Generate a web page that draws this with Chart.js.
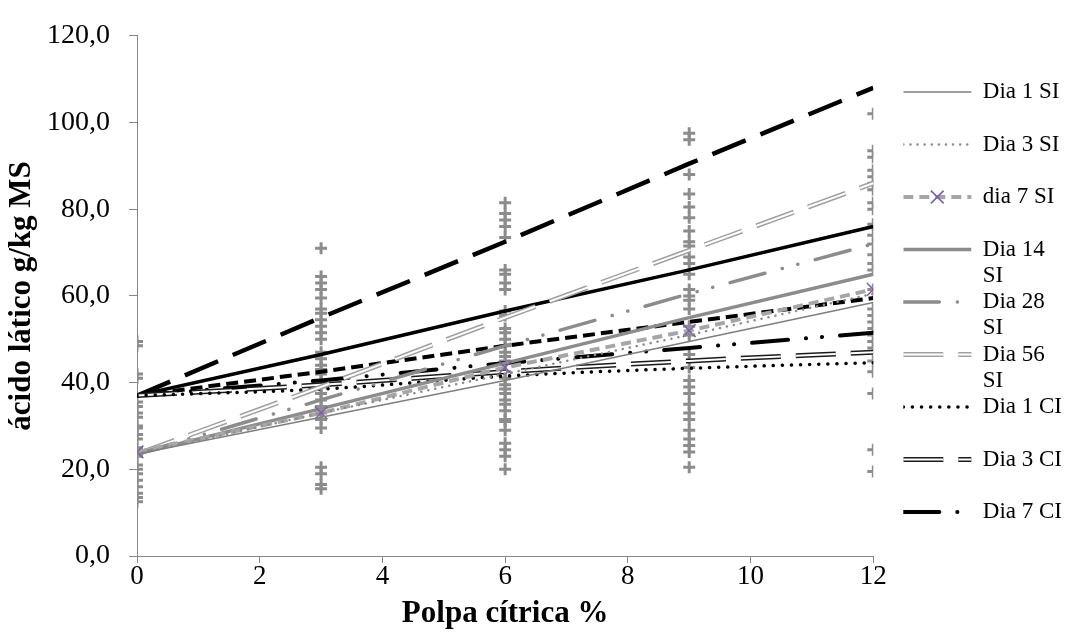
<!DOCTYPE html>
<html>
<head>
<meta charset="utf-8">
<script src="https://cdn.jsdelivr.net/npm/chart.js@4/dist/chart.umd.min.js"></script>
<style>
  html, body { margin: 0; padding: 0; background: #fff; }
  #wrap { width: 1082px; height: 640px; }
</style>
</head>
<body>
<div id="wrap"><canvas id="chart"></canvas></div>
<script>
// x levels (% polpa cítrica) where the lines/points were read
const xLevels = [0, 3, 6, 9, 12];

// fitted lines, silage without inoculant (SI)
const dia1SI  = [23.5, 32, 40.5, 49.5, 58.5];
const dia3SI  = [23.5, 33, 42, 51, 60.5];
const dia7SI  = [24, 33, 43.5, 52, 61.5];
const dia14SI = [23.5, 34, 44.5, 55, 65];
const dia28SI = [23.5, 36, 48.5, 60.5, 72];
const dia56SI = [23.5, 39, 55, 70.5, 86];

// fitted lines, with inoculant (CI)
const dia1CI  = [37, 38.5, 41.5, 43.3, 44.6];
const dia3CI  = [37, 39.5, 42.5, 45, 47];
const dia7CI  = [37, 40.5, 44.5, 48, 51.5];
const dia14CI = [37, 46.5, 56.5, 66, 76];
const dia28CI = [37, 42.5, 48.5, 54, 59.5];
const dia56CI = [37, 55, 72.5, 90.5, 108];

// observed values (+), one array per x level
const obs0  = [49.5, 48.5, 42, 41, 35.5, 34.5, 33, 32, 30, 29.5, 28, 27, 25, 24, 23, 21, 20, 19, 17.5, 16, 14.5, 13.5, 12.5];
const obs3  = [71, 64.5, 63, 61.5, 59.5, 57, 56, 54.5, 53, 51.5, 50, 47, 45.5, 44, 43, 42, 40.5, 39, 37.5, 36, 34.5, 33, 31.5, 29.5, 20.5, 19, 16.5, 15.5];
const obs6  = [81.5, 79, 77.5, 76, 73.5, 66, 65, 63, 61.5, 56.5, 55.5, 52.5, 51.5, 50, 48.5, 47, 46, 45, 42.5, 41, 39.5, 38.5, 37.5, 36, 35, 33.5, 31.5, 31, 29, 26, 24.5, 23, 20];
const obs9  = [97.5, 96, 88, 83.5, 80.5, 78, 75, 72.5, 71.5, 69, 67.5, 65, 61.5, 60, 59, 57, 53, 51, 46.5, 43.5, 40.5, 39, 37.5, 35, 33, 31.5, 29, 27, 25.5, 24, 20.5];
const obs12 = [102, 93.5, 92, 89, 87.5, 86, 84.5, 81.5, 80, 76.5, 74, 72, 69.5, 67.5, 66, 61.5, 57, 55.5, 54, 52.5, 51, 49.5, 48, 45, 42.5, 37.5, 24.5, 19.5];
const obsByLevel = [obs0, obs3, obs6, obs9, obs12];

const xTitle = 'Polpa cítrica %';
const yTitle = 'ácido lático g/kg MS';

const SERIF = "'Liberation Serif', 'Times New Roman', serif";
const GRAY = '#8c8c8c';
const LEGEND_FONT = 23;
const SAMPLE_W = 68;

const pts = vals => vals.map((v, i) => ({ x: xLevels[i], y: v }));

function line(label, text, vals, style, inLegend) {
  return Object.assign({
    type: 'line',
    label: label,
    legendText: text,
    inLegend: inLegend,
    data: pts(vals),
    fill: false,
    pointRadius: 0,
    pointHoverRadius: 0,
    tension: 0,
    borderCapStyle: 'butt',
    borderDash: []
  }, style);
}

const datasets = [
  line('Dia 1 SI', ['Dia 1 SI', ''], dia1SI, { borderColor: '#7f7f7f', borderWidth: 1.5 }, true),
  line('Dia 3 SI', ['Dia 3 SI', ''], dia3SI, { borderColor: GRAY, borderWidth: 2.5, borderDash: [0.1, 7], borderCapStyle: 'round' }, true),
  line('dia 7 SI', ['dia 7 SI', ''], dia7SI, {
    borderColor: '#a6a6a6', borderWidth: 4, borderDash: [10, 6],
    pointStyle: 'crossRot', pointRadius: 9, pointBorderColor: '#7b5ea7',
    pointBorderWidth: 1.5, pointBackgroundColor: 'rgba(0,0,0,0)'
  }, true),
  line('Dia 14 SI', ['Dia 14', 'SI'], dia14SI, { borderColor: GRAY, borderWidth: 3.5 }, true),
  line('Dia 28 SI', ['Dia 28', 'SI'], dia28SI, { borderColor: GRAY, borderWidth: 3.5, borderDash: [36, 18, 0.1, 16, 0.1, 18], borderCapStyle: 'round' }, true),
  line('Dia 56 SI inner', [''], dia56SI, { borderColor: '#ffffff', borderWidth: 2, borderDash: [40, 15] }, false),
  line('Dia 56 SI', ['Dia 56', 'SI'], dia56SI, { borderColor: '#a0a0a0', borderWidth: 5, borderDash: [40, 15], innerColor: '#ffffff', innerWidth: 2 }, true),
  line('Dia 1 CI', ['Dia 1 CI', ''], dia1CI, { borderColor: '#000000', borderWidth: 3.5, borderDash: [0.1, 9], borderCapStyle: 'round', cubicInterpolationMode: 'monotone' }, true),
  line('Dia 3 CI inner', [''], dia3CI, { borderColor: '#ffffff', borderWidth: 2, borderDash: [40, 15], cubicInterpolationMode: 'monotone' }, false),
  line('Dia 3 CI', ['Dia 3 CI', ''], dia3CI, { borderColor: '#1a1a1a', borderWidth: 5, borderDash: [40, 15], innerColor: '#ffffff', innerWidth: 2, cubicInterpolationMode: 'monotone' }, true),
  line('Dia 7 CI', ['Dia 7 CI', ''], dia7CI, { borderColor: '#000000', borderWidth: 4, borderDash: [36, 18, 0.1, 16, 0.1, 18], borderCapStyle: 'round' }, true),
  line('Dia 14 CI', ['Dia 14 CI', ''], dia14CI, { borderColor: '#000000', borderWidth: 3.5 }, false),
  line('Dia 28 CI', ['Dia 28 CI', ''], dia28CI, { borderColor: '#000000', borderWidth: 4, borderDash: [12, 6] }, false),
  line('Dia 56 CI', ['Dia 56 CI', ''], dia56CI, { borderColor: '#000000', borderWidth: 4.5, borderDash: [36, 16] }, false),
  {
    type: 'scatter',
    label: 'Observado',
    inLegend: false,
    data: obsByLevel.flatMap((vals, i) => vals.map(v => ({ x: xLevels[i], y: v }))),
    showLine: false,
    pointStyle: 'cross',
    pointRadius: 6,
    pointHoverRadius: 6,
    pointBorderWidth: 3,
    pointBorderColor: GRAY,
    borderColor: GRAY
  }
];

// white core for the double lines and the X marker on the legend samples
const legendDecor = {
  id: 'legendDecor',
  afterDraw(chart) {
    const lg = chart.legend;
    const ctx = chart.ctx;
    lg.legendItems.forEach((item, i) => {
      const ds = chart.data.datasets[item.datasetIndex];
      const hb = lg.legendHitBoxes[i];
      const cy = hb.top + LEGEND_FONT / 2;
      const x0 = hb.left, x1 = hb.left + SAMPLE_W;
      ctx.save();
      if (ds.innerColor) {
        ctx.strokeStyle = ds.innerColor;
        ctx.lineWidth = ds.innerWidth;
        ctx.setLineDash(ds.borderDash);
        ctx.beginPath();
        ctx.moveTo(x0, cy);
        ctx.lineTo(x1, cy);
        ctx.stroke();
      }
      if (ds.pointStyle === 'crossRot') {
        const r = ds.pointRadius * Math.SQRT1_2;
        const cx = (x0 + x1) / 2;
        ctx.setLineDash([]);
        ctx.strokeStyle = ds.pointBorderColor;
        ctx.lineWidth = ds.pointBorderWidth;
        ctx.beginPath();
        ctx.moveTo(cx - r, cy - r); ctx.lineTo(cx + r, cy + r);
        ctx.moveTo(cx - r, cy + r); ctx.lineTo(cx + r, cy - r);
        ctx.stroke();
      }
      ctx.restore();
    });
  }
};

new Chart(document.getElementById('chart'), {
  type: 'line',
  data: { datasets: datasets },
  plugins: [legendDecor],
  options: {
    responsive: true,
    maintainAspectRatio: false,
    animation: false,
    events: [],
    layout: { padding: { top: 23, right: 10, bottom: 0, left: 0 } },
    scales: {
      x: {
        type: 'linear',
        min: 0, max: 12,
        afterFit(scale) { scale.height = 84; },
        grid: { drawOnChartArea: false, drawTicks: true, tickLength: 7, color: '#868686' },
        border: { color: '#868686', width: 1 },
        ticks: { stepSize: 2, padding: 0, maxRotation: 0, autoSkip: false, color: '#000',
                 font: { family: SERIF, size: 27, lineHeight: 1 } },
        title: { display: true, text: xTitle, color: '#000',
                 font: { family: SERIF, size: 31, weight: 'bold', lineHeight: 1.2 },
                 padding: { top: 0, bottom: 7 } }
      },
      y: {
        min: 0, max: 120,
        afterFit(scale) { scale.width = 137; },
        grid: { drawOnChartArea: false, drawTicks: true, tickLength: 8, color: '#868686' },
        border: { color: '#868686', width: 1 },
        ticks: { stepSize: 20, padding: 19, color: '#000',
                 font: { family: SERIF, size: 28 },
                 callback: v => v.toFixed(1).replace('.', ',') },
        title: { display: true, text: yTitle, color: '#000',
                 font: { family: SERIF, size: 31, weight: 'bold', lineHeight: 1.2 },
                 padding: { top: 3, bottom: 0 } }
      },
      y2: {
        position: 'right',
        display: true,
        afterFit(scale) { scale.width = 30; },
        grid: { display: false, drawTicks: false },
        border: { display: false },
        ticks: { display: false }
      }
    },
    plugins: {
      tooltip: { enabled: false },
      legend: {
        position: 'right',
        align: 'start',
        title: { display: true, text: '', font: { size: 10, lineHeight: 1 }, padding: { top: 47.5, bottom: 0 } },
        labels: {
          usePointStyle: true,
          pointStyleWidth: SAMPLE_W,
          padding: 0,
          color: '#000',
          font: { family: SERIF, size: LEGEND_FONT, lineHeight: '26.25px' },
          generateLabels(chart) {
            return chart.data.datasets.map((ds, i) => ({
              text: ds.legendText || ds.label,
              datasetIndex: i,
              fillStyle: ds.borderColor,
              strokeStyle: ds.borderColor,
              lineWidth: ds.borderWidth,
              lineDash: ds.borderDash || [],
              lineCap: ds.borderCapStyle || 'butt',
              pointStyle: 'line',
              hidden: false,
              fontColor: '#000'
            }));
          },
          filter: (item, data) => data.datasets[item.datasetIndex].inLegend === true
        }
      }
    }
  }
});
</script>
</body>
</html>
